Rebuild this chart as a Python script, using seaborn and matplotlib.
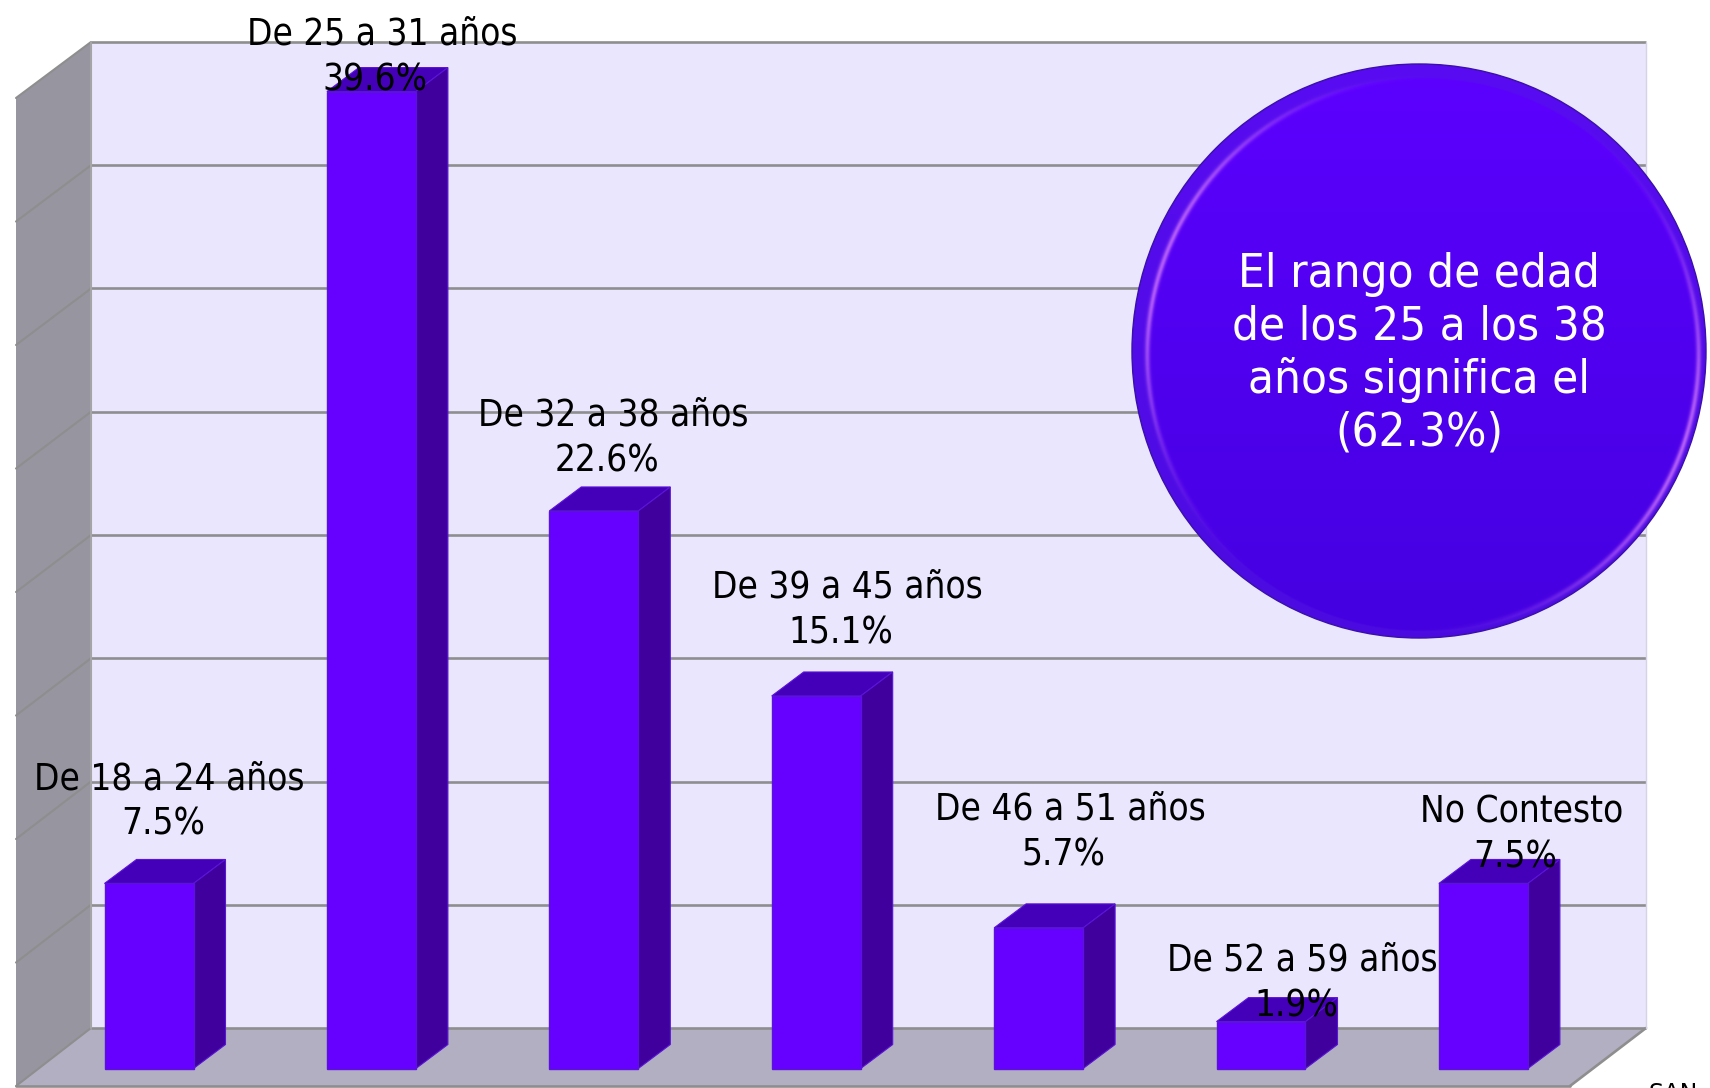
import numpy as np
import pandas as pd
import matplotlib
matplotlib.use("Agg")
import matplotlib.pyplot as plt
from matplotlib.patches import Polygon, Ellipse
import seaborn as sns

categories = ["De 18 a 24 años", "De 25 a 31 años", "De 32 a 38 años", "De 39 a 45 años",
              "De 46 a 51 años", "De 52 a 59 años", "No Contesto"]
values = [7.5, 39.6, 22.6, 15.1, 5.7, 1.9, 7.5]
callout = "El rango de edad\nde los 25 a los 38\naños significa el\n(62.3%)"
grid_values = [0, 5, 10, 15, 20, 25, 30, 35, 40]

W, H = 1710, 1088
X0, DX = 149.0, 222.4      # pixel of first bar centre, category spacing
Y0, DY = 1068.5, 24.67     # pixel of value 0 at bar front, pixels per percent
BAR_W = 89 / DX
# pixel offsets of labels relative to bar centre/top (value line)
label_dx = [14, 4, 13, 25, 25, 35, 32]
label_top = [59, 12, 50, 63, 73, 16, 26]
name_shift = 6.5

def px(x):
    return (x - X0) / DX
def py(y):
    return (Y0 - y) / DY

sns.set_theme(style="white")
fam = ["DejaVu Sans"]
fig = plt.figure(figsize=(W / 100, H / 100), dpi=100, facecolor="white")
ax = fig.add_axes([0, 0, 1, 1])
df = pd.DataFrame({"cat": categories, "val": values})

# room box
BL, BR, BB, BT = 91, 1646, 1028, 42
FL, FB, FR = 16, 1086, 1570
wall = "#97959F"
ax.add_patch(Polygon([(px(BL), py(BT)), (px(BR), py(BT)), (px(BR), py(BB)), (px(BL), py(BB))],
                     fc="#E9E6FD", ec="none", zorder=0))
ax.add_patch(Polygon([(px(FL), py(98)), (px(BL), py(BT)), (px(BL), py(BB)), (px(FL), py(FB))],
                     fc=wall, ec="none", zorder=0))
ax.add_patch(Polygon([(px(BL), py(BB)), (px(BR), py(BB)), (px(FR), py(FB)), (px(FL), py(FB))],
                     fc="#B2AFC3", ec="none", zorder=0))
gc = "#8E8E8E"
for v in grid_values:
    yb = BB - v * (BB - BT) / 40
    yf = FB - v * (FB - 98) / 40
    ax.plot([px(BL), px(BR)], [py(yb), py(yb)], color=gc, lw=1.9, zorder=1, solid_capstyle="butt")
    ax.plot([px(FL), px(BL)], [py(yf), py(yb)], color=gc, lw=1.5, zorder=1)
ax.plot([px(BL), px(BL)], [py(BT), py(BB)], color="#A5A5A8", lw=1.5, zorder=1)
ax.plot([px(FL), px(FR)], [py(FB), py(FB)], color=gc, lw=1.9, zorder=1)
ax.plot([px(FR), px(BR)], [py(FB), py(BB)], color=gc, lw=1.9, zorder=1)
ax.plot([px(BR), px(BR)], [py(BT), py(BB)], color="#D5D3E6", lw=1, zorder=1)

# bars: front faces from seaborn
sns.barplot(data=df, x="cat", y="val", order=categories, color="#6600FF", saturation=1,
            width=BAR_W, edgecolor="#5A14D8", linewidth=1.0, ax=ax, zorder=3)

# 3-D faces derived from the bars
ddx, ddy = 32 / DX, 24 / DY
for i, v in enumerate(values):
    l, r = i - BAR_W / 2, i + BAR_W / 2
    ax.add_patch(Polygon([(l, v), (r, v), (r + ddx, v + ddy), (l + ddx, v + ddy)],
                         fc="#4400B8", ec="#5A14D8", lw=0.8, zorder=2.5))
    ax.add_patch(Polygon([(r, 0), (r + ddx, ddy), (r + ddx, v + ddy), (r, v)],
                         fc="#3F009E", ec="#5A14D8", lw=0.8, zorder=2.5))

# labels
for i, (c, v) in enumerate(zip(categories, values)):
    xc = i + label_dx[i] / DX
    yv = v + label_top[i] / DY
    ax.text(xc, yv, f"{v:.1f}%", ha="center", va="center", fontsize=26.5, color="black",
            family=fam, fontstretch="condensed", zorder=6)
    ax.text(xc + name_shift / DX, yv + 45.5 / DY, c, ha="center", va="center", fontsize=26.5,
            color="black", family=fam, fontstretch="condensed", zorder=6)

# callout circle
CX, CY, RX, RY = 1419, 351, 287, 287
ny, nx = 600, 600
xx, yy = np.meshgrid(np.linspace(-1, 1, nx), np.linspace(-1, 1, ny))
top, bot = np.array([0x5C, 0x00, 0xFF]) / 255, np.array([0x44, 0x00, 0xE0]) / 255
t = ((yy + 1) / 2)[..., None]
img = top * (1 - t) + bot * t
rr2 = np.hypot(xx - 0.014, yy - 0.014)
outer = np.clip((rr2 - 0.96) / 0.006, 0, 1)[..., None]
img = img * (1 - 0.45 * outer) + np.array([0.33, 0.10, 0.88]) * 0.45 * outer
ang = np.arctan2(yy, xx)
ring = np.exp(-((rr2 - 0.962) / 0.009) ** 2)
weight = (0.8 * np.cos(ang - np.radians(20)) ** 4 * ring)[..., None]
img = img * (1 - weight) + np.array([0.80, 0.45, 0.98]) * weight
im = ax.imshow(img, extent=(px(CX - RX), px(CX + RX), py(CY + RY), py(CY - RY)),
               origin="upper", zorder=5, aspect="auto", interpolation="bilinear")
clip = Ellipse((px(CX), py(CY)), 2 * RX / DX, 2 * RY / DY, transform=ax.transData, fc="none", ec="none")
ax.add_patch(clip)
im.set_clip_path(clip)
ax.add_patch(Ellipse((px(CX), py(CY)), 2 * RX / DX, 2 * RY / DY, fc="none", ec="#3A10A8", lw=1, zorder=5.1))
ax.text(px(1419), py(354), callout, ha="center", va="center", color="white", fontsize=34,
        family=fam, fontstretch="condensed", linespacing=1.21, zorder=7)

ax.text(px(1648), py(1094), "SAN", ha="left", va="center", fontsize=17, color="black", family=fam, zorder=7)

ax.set_xlim(px(0), px(W))
ax.set_ylim(py(H), py(0))
ax.set_axis_off()
fig.savefig("out.png", dpi=100)
